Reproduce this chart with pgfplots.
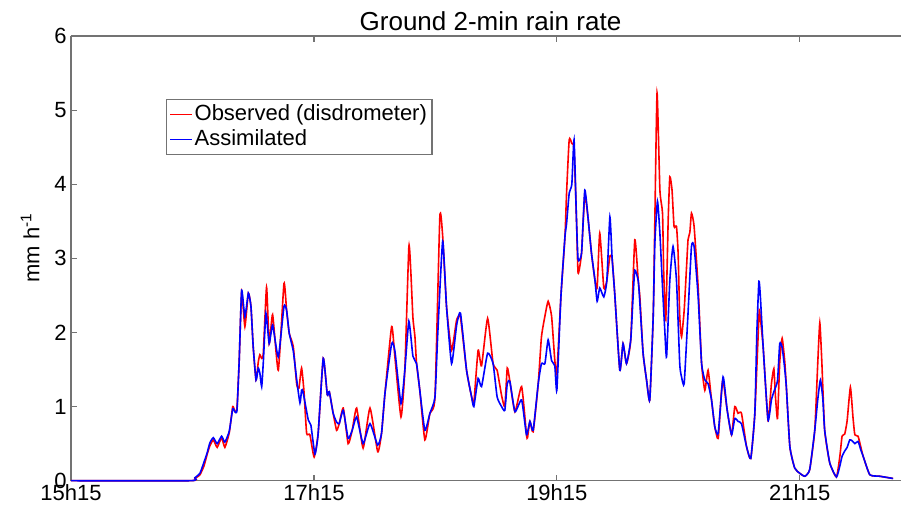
\documentclass[border=0pt]{standalone}
\usepackage{fontspec}
\setmainfont{Liberation Sans}
\usepackage{pgfplots}
\pgfplotsset{compat=1.18}
\begin{document}
\begin{tikzpicture}
% picture = 901x506 px at 0.5pt per px
\path[use as bounding box] (-35.5pt,-12.65pt) rectangle (415pt,240.35pt);
\begin{axis}[
    scale only axis,
    width=415pt, height=222.35pt,
    xmin=0, xmax=410, ymin=0, ymax=6,
    axis y line*=left,
    clip=false,
    tick align=inside,
    xtick={0,120,240,360},
    xticklabels={15h15,17h15,19h15,21h15},
    ytick={0,1,2,3,4,5,6},
    minor tick num=0,
    major tick length=3pt,
    axis line style={black!55, line width=0.6pt},
    every tick/.style={black!55, line width=0.6pt},
    tick label style={font=\fontsize{11}{13}\selectfont},
    /pgf/number format/assume math mode=true,
    yticklabel style={inner xsep=2pt},
    xticklabel style={inner ysep=1.5pt},
    every axis title shift=0pt,
    title={Ground 2-min rain rate},
    title style={at={(axis description cs:0.5054,1)}, anchor=base, yshift=2.5pt,
        font=\fontsize{13}{15}\selectfont},
    ylabel={mm h\textsuperscript{-1}},
    ylabel style={at={(axis description cs:-0.0494,0.524)}, anchor=center,
        font=\fontsize{11}{13}\selectfont},
    legend style={at={(axis description cs:0.1145,0.8577)}, anchor=north west,
        draw=black!55, line width=0.6pt, inner xsep=1.5pt, inner ysep=1.2pt,
        font=\fontsize{11}{13}\selectfont,
        nodes={inner sep=1pt, text height=0.8em, text depth=0.25em},
        cells={anchor=west}},
    legend image code/.code={\draw[#1, line width=0.5pt] (0pt,0pt) -- (11pt,0pt);},
    legend cell align=left,
]
\addplot[color=red, line width=0.8pt, smooth, tension=0.3] coordinates {
(0,0) (58.8,0) (61.2,0.03) (63.7,0.08) (65.7,0.2) (67.2,0.35) (68.6,0.47)
(70.3,0.55) (72.2,0.45) (74.4,0.58) (76.0,0.45) (78.2,0.65) (79.9,1.0)
(81.0,0.93) (82.0,0.98) (83.1,1.63) (84.3,2.55) (85.9,2.08) (87.6,2.53)
(88.9,2.35) (90.0,1.81) (91.4,1.36) (92.5,1.60) (93.3,1.70) (94.2,1.65)
(95.0,1.72) (96.6,2.61) (97.9,1.85) (99.6,2.24) (102.4,1.49) (105.2,2.66)
(106.5,2.30) (107.8,1.99) (109.8,1.81) (111.5,1.30) (112.6,1.25) (113.9,1.52)
(115.1,1.20) (116.4,0.64) (118.0,0.62) (120.1,0.32) (122.1,0.64) (124.6,1.65)
(126.6,1.16) (127.6,1.20) (129.5,0.91) (131.2,0.68) (132.5,0.77) (134.5,0.98)
(136.9,0.50) (138.9,0.68) (141.1,0.98) (144.3,0.44) (147.7,0.98) (151.5,0.39)
(153.4,0.64) (155.1,1.18) (158.4,2.08) (160.0,1.67) (163.0,0.86) (164.9,1.49)
(166.9,3.16) (167.9,2.80) (168.9,2.20) (169.9,1.94) (170.7,1.58) (172.3,1.22)
(174.8,0.55) (177.3,0.91) (179.8,1.13) (182.2,3.56) (183.6,3.30) (185.5,2.35)
(188.0,1.76) (190.5,2.17) (192.4,2.20) (195.4,1.49) (197.9,1.13) (199.0,1.05)
(201.1,1.76) (202.8,1.55) (205.8,2.19) (208.5,1.58) (210.5,1.49) (212.7,1.15)
(214.3,1.00) (215.5,1.52) (216.8,1.34) (219.3,0.93) (222.6,1.27) (225.0,0.62)
(225.5,0.58) (226.7,0.80) (228.3,0.66) (230.8,1.31) (232.4,1.94) (234.1,2.22)
(235.7,2.42) (237.4,2.22) (239.0,1.62) (240.0,1.45) (242.0,2.48) (244.0,3.29)
(244.8,3.88) (246.1,4.60) (247.4,4.55) (248.5,4.48) (249.7,3.52) (250.5,2.80)
(252.2,3.07) (253.8,3.86) (255.5,3.52) (257.1,3.07) (258.8,2.71) (259.9,2.60)
(261.2,3.34) (263.2,2.60) (264.7,2.70) (266.2,3.03) (267.3,3.00) (268.6,2.52)
(271.1,1.49) (272.7,1.85) (274.4,1.58) (276.5,1.90) (278.5,3.25) (280.2,2.70)
(281.0,2.48) (282.6,1.72) (284.3,1.36) (285.9,1.09) (287.6,2.22) (288.4,3.50)
(289.5,5.23) (290.9,3.92) (292.2,3.61) (292.8,2.80) (293.8,2.17) (295.0,3.52)
(295.8,4.10) (296.9,3.92) (297.9,3.43) (299.1,3.43) (299.9,3.07) (300.7,2.22)
(301.6,1.94) (302.9,2.30) (304.1,2.90) (304.8,3.25) (305.7,3.35) (306.5,3.61)
(307.8,3.43) (309.8,2.61) (311.5,1.58) (313.1,1.22) (314.7,1.49) (316.4,1.09)
(318.0,0.73) (319.7,0.57) (321.3,1.20) (322.1,1.36) (324.1,0.96) (326.3,0.62)
(327.9,1.00) (329.5,0.91) (331.2,0.91) (333.7,0.46) (335.8,0.30) (337.8,0.91)
(339.9,2.26) (340.3,2.25) (341.9,1.81) (344.3,0.82) (346.0,1.31) (347.2,1.51)
(348.0,1.13) (349.0,0.84) (350.1,1.60) (351.3,1.92) (352.6,1.60) (353.4,1.25)
(355.1,0.46) (357.5,0.17) (360.0,0.10) (362.5,0.06) (364.9,0.15) (367.4,0.68)
(368.9,1.60) (369.9,2.13) (370.9,1.60) (372.3,0.68) (374.8,0.24) (378.1,0.05)
(379.8,0.33) (380.9,0.60) (382.2,0.63) (383.4,0.81) (385.0,1.26) (386.3,0.85)
(387.2,0.62) (388.8,0.60) (390.1,0.46) (391.3,0.33) (394.6,0.08) (399.5,0.06)
(406.1,0.03)
};
\addlegendentry{Observed (disdrometer)}
\addplot[color=blue, line width=0.8pt, smooth, tension=0.3] coordinates {
(0,0) (58.8,0) (61.2,0.04) (63.7,0.10) (65.7,0.25) (67.2,0.37) (68.6,0.51)
(70.3,0.58) (72.2,0.50) (74.4,0.60) (76.0,0.52) (78.2,0.67) (79.9,0.97)
(81.0,0.93) (82.0,0.95) (83.1,1.63) (84.3,2.57) (85.9,2.21) (87.6,2.53)
(88.9,2.35) (90.0,1.81) (91.4,1.36) (92.5,1.52) (93.3,1.45) (94.2,1.27)
(95.0,1.60) (96.3,2.26) (97.9,1.85) (99.6,2.10) (102.4,1.67) (105.2,2.35)
(106.5,2.30) (107.8,1.99) (109.8,1.75) (111.5,1.36) (113.1,1.05) (113.9,1.22)
(114.6,1.20) (117.2,0.82) (118.5,0.75) (120.5,0.36) (122.1,0.64) (124.6,1.65)
(126.6,1.16) (127.6,1.20) (129.5,0.91) (131.2,0.79) (132.5,0.77) (134.5,0.95)
(136.9,0.57) (138.9,0.68) (141.1,0.86) (144.3,0.50) (147.7,0.77) (151.5,0.48)
(153.4,0.64) (155.1,1.18) (158.4,1.85) (160.0,1.75) (163.0,1.04) (164.9,1.49)
(166.9,2.15) (168.9,1.68) (170.7,1.58) (172.3,1.22) (174.8,0.68) (177.3,0.91)
(179.8,1.13) (181.2,2.00) (183.6,3.23) (185.5,2.35) (188.0,1.58) (190.5,2.10)
(192.4,2.26) (195.4,1.49) (197.9,1.13) (199.0,1.00) (201.1,1.38) (202.8,1.27)
(205.8,1.72) (208.5,1.58) (210.5,1.13) (212.7,1.00) (214.3,0.95) (215.5,1.31)
(216.8,1.34) (219.3,0.93) (222.6,1.09) (225.0,0.62) (226.7,0.80) (228.3,0.68)
(230.8,1.31) (232.4,1.58) (234.1,1.58) (235.7,1.90) (237.4,1.62) (239.0,1.55)
(240.0,1.22) (242.0,2.48) (244.0,3.29) (244.8,3.47) (246.1,3.88) (247.4,4.00)
(248.5,4.60) (249.7,3.52) (250.5,2.98) (252.2,3.07) (253.8,3.92) (255.5,3.52)
(257.1,3.07) (258.8,2.71) (259.9,2.42) (261.2,2.60) (263.2,2.48) (264.7,2.70)
(266.2,3.56) (267.3,3.00) (268.6,2.52) (271.1,1.49) (272.7,1.85) (274.4,1.58)
(276.5,1.90) (277.5,2.40) (278.5,2.84) (280.2,2.70) (281.0,2.40) (282.6,1.72)
(284.3,1.36) (285.9,1.09) (287.6,2.22) (288.4,3.20) (289.7,3.77) (290.9,3.34)
(292.2,2.61) (293.3,2.04) (294.2,1.67) (295.8,2.70) (297.4,3.16) (299.1,2.70)
(300.7,1.58) (301.6,1.40) (302.9,1.31) (304.8,2.26) (306.5,3.16) (307.8,3.16)
(309.8,2.48) (311.5,1.58) (313.1,1.36) (314.7,1.31) (316.4,1.09) (318.0,0.73)
(319.7,0.64) (322.1,1.40) (324.1,0.96) (326.3,0.62) (327.9,0.84) (329.5,0.80)
(331.2,0.77) (333.7,0.46) (335.8,0.30) (337.8,0.91) (338.8,2.00) (339.8,2.69)
(340.5,2.50) (341.9,1.81) (344.3,0.82) (346.0,1.09) (347.2,1.20) (349.0,1.35)
(350.1,1.85) (351.3,1.80) (352.6,1.50) (353.4,1.25) (355.1,0.46) (357.5,0.17)
(360.0,0.10) (362.5,0.06) (364.9,0.15) (367.4,0.68) (368.9,1.10) (370.2,1.36)
(371.4,1.10) (372.3,0.68) (374.8,0.24) (378.1,0.05) (379.8,0.20) (380.9,0.33)
(382.2,0.40) (383.4,0.45) (384.7,0.55) (385.8,0.54) (387.2,0.50) (388.8,0.53)
(390.1,0.42) (391.3,0.33) (394.6,0.08) (399.5,0.06) (406.1,0.03)
};
\addlegendentry{Assimilated}
\end{axis}
\end{tikzpicture}
\end{document}
